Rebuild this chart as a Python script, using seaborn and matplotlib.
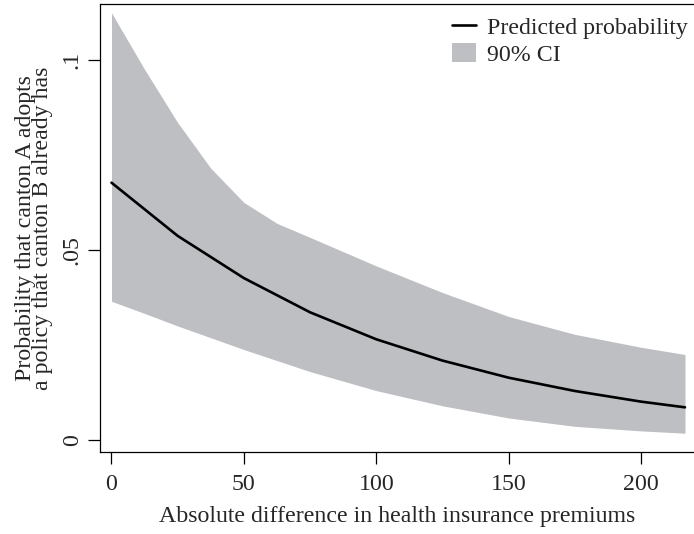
import numpy as np
import pandas as pd
import matplotlib
matplotlib.use("Agg")
import matplotlib.pyplot as plt
import seaborn as sns
from matplotlib.lines import Line2D
from matplotlib.patches import Patch

# ---- data ----
x_pred = [0, 25, 50, 75, 100, 125, 150, 175, 200, 216.6]
p_pred = [0.0677, 0.0537, 0.0426, 0.0336, 0.0265, 0.0209, 0.0164, 0.0129, 0.0101, 0.0086]

x_ci = [0, 12.5, 25, 37.5, 50, 62.5, 75, 100, 125, 150, 175, 200, 216.6]
ci_upper = [0.1124, 0.0975, 0.0835, 0.0715, 0.0625, 0.0570, 0.0533, 0.0458, 0.0388, 0.0325, 0.0278, 0.0244, 0.0225]
ci_lower = [0.0365, 0.0333, 0.0300, 0.0269, 0.0238, 0.0209, 0.0180, 0.0130, 0.0090, 0.0058, 0.0036, 0.0024, 0.0018]

x_ticks = [0, 50, 100, 150, 200]
x_ticklabels = ["0", "50", "100", "150", "200"]
y_ticks = [0, 0.05, 0.1]
y_ticklabels = ["0", ".05", ".1"]

sns.set_theme(style="white")
plt.rcParams["font.family"] = ["Liberation Serif", "DejaVu Serif"]

FS = 17.2
fig = plt.figure(figsize=(6.94, 5.34), dpi=100)
ax = fig.add_axes([100 / 694, 1 - 452 / 534, 1 - 100 / 694, (452 - 4) / 534])

band_color = "#bebfc3"
ax.fill_between(x_ci, ci_lower, ci_upper, color=band_color, linewidth=0, zorder=1)

df = pd.DataFrame({"x": x_pred, "p": p_pred})
sns.lineplot(data=df, x="x", y="p", ax=ax, color="black", linewidth=1.9, zorder=2)

ax.set_xlim(-4.34, 220.0)
ax.set_ylim(-0.00315, 0.1147)

ax.set_xticks(x_ticks)
ax.set_xticklabels(x_ticklabels, fontsize=FS)
ax.set_yticks(y_ticks)
ax.set_yticklabels(y_ticklabels, fontsize=FS, rotation=90, va="center")

ax.tick_params(axis="both", direction="out", length=8.5, width=0.9, color="black",
               bottom=True, left=True)
ax.tick_params(axis="x", pad=7)
ax.tick_params(axis="y", pad=4)

for s in ["left", "top", "bottom"]:
    ax.spines[s].set_visible(True)
    ax.spines[s].set_color("black")
    ax.spines[s].set_linewidth(0.9)
ax.spines["right"].set_visible(False)

ax.set_xlabel("Absolute difference in health insurance premiums", fontsize=FS, labelpad=8)
ax.set_ylabel("Probability that canton A adopts\na policy that canton B already has",
              fontsize=FS, labelpad=6, linespacing=0.8)

handles = [Line2D([0], [0], color="black", linewidth=1.9),
           Patch(facecolor=band_color, edgecolor="none")]
leg = ax.legend(handles, ["Predicted probability", "90% CI"], loc="upper right",
                frameon=False, fontsize=FS, handlelength=1.0, handletextpad=0.45,
                handleheight=0.85, borderaxespad=0.0, labelspacing=0.2,
                bbox_to_anchor=(1.006, 0.995))

fig.savefig("out.png", dpi=100)
